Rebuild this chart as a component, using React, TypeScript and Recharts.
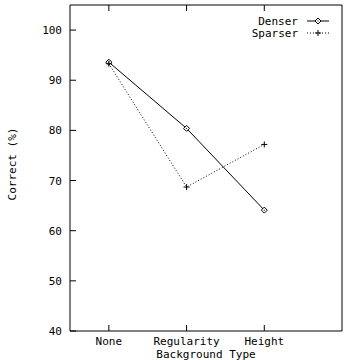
import React from 'react';
import { LineChart, Line, XAxis, YAxis, Legend } from 'recharts';

const categories = ['None', 'Regularity', 'Height'];
const xPositions = [1, 2, 3];
const denser = [93.6, 80.4, 64.1];
const sparser = [93.3, 68.7, 77.2];
const yTicks = [40, 50, 60, 70, 80, 90, 100];

const data = categories.map((c, i) => ({ name: c, x: xPositions[i], denser: denser[i], sparser: sparser[i] }));

const FONT = '"DejaVu Sans Mono", "Liberation Mono", monospace';
const FS = 11;

const XTickBottom = (props: any) => {
  const { x, y, payload } = props;
  const idx = xPositions.indexOf(payload.value);
  return (
    <g>
      <line x1={x} y1={y} x2={x} y2={y - 6} stroke="#000" />
      <text x={x} y={y + 14} textAnchor="middle" fontFamily={FONT} fontSize={FS} fill="#000">
        {idx >= 0 ? categories[idx] : ''}
      </text>
    </g>
  );
};

const XTickTop = (props: any) => {
  const { x, y } = props;
  return <line x1={x} y1={y} x2={x} y2={y + 6} stroke="#000" />;
};

const YTickLeft = (props: any) => {
  const { x, y, payload } = props;
  return (
    <g>
      <line x1={x} y1={y} x2={x + 6} y2={y} stroke="#000" />
      <text x={x - 8} y={y + 4} textAnchor="end" fontFamily={FONT} fontSize={FS} fill="#000">
        {payload.value}
      </text>
    </g>
  );
};

const YTickRight = (props: any) => {
  const { x, y } = props;
  return <line x1={x} y1={y} x2={x - 6} y2={y} stroke="#000" />;
};

const Diamond = ({ cx, cy }: { cx: number; cy: number }) => (
  <g>
    <polygon
      points={`${cx},${cy - 3} ${cx + 3},${cy} ${cx},${cy + 3} ${cx - 3},${cy}`}
      fill="#fff"
      stroke="#000"
      strokeWidth={1}
    />
    <rect x={cx - 0.5} y={cy - 0.5} width={1} height={1} fill="#000" />
  </g>
);

const Plus = ({ cx, cy }: { cx: number; cy: number }) => (
  <g stroke="#000" strokeWidth={1}>
    <line x1={cx - 3} y1={cy} x2={cx + 3} y2={cy} />
    <line x1={cx} y1={cy - 3} x2={cx} y2={cy + 3} />
  </g>
);

const denserDot = (p: any) => <Diamond key={`d${p.index}`} cx={p.cx} cy={p.cy} />;
const sparserDot = (p: any) => <Plus key={`s${p.index}`} cx={p.cx} cy={p.cy} />;

const YLabel = (props: any) => {
  const vb = props.viewBox || { x: 0, y: 0, width: 0, height: 0 };
  const cx = vb.x + 12;
  const cy = vb.y + vb.height / 2 - 4;
  return (
    <text
      x={cx}
      y={cy}
      transform={`rotate(-90, ${cx}, ${cy})`}
      textAnchor="middle"
      dominantBaseline="central"
      fontFamily={FONT}
      fontSize={FS}
      fill="#000"
    >
      Correct (%)
    </text>
  );
};

const legendItems = [
  { label: 'Denser', dash: undefined as string | undefined, marker: 'diamond' },
  { label: 'Sparser', dash: '1 2', marker: 'plus' },
];

const LegendContent = () => (
  <svg width={110} height={32} style={{ display: 'block' }}>
    {legendItems.map((it, i) => {
      const yy = 7 + i * 12;
      return (
        <g key={it.label}>
          <text x={68} y={yy + 4} textAnchor="end" fontFamily={FONT} fontSize={FS} fill="#000">
            {it.label}
          </text>
          <line x1={77} y1={yy} x2={99} y2={yy} stroke="#000" strokeDasharray={it.dash} />
          {it.marker === 'diamond' ? <Diamond cx={88} cy={yy} /> : <Plus cx={88} cy={yy} />}
        </g>
      );
    })}
  </svg>
);

export default function App() {
  return (
    <div style={{ position: 'absolute', left: 0, top: 0, width: 360, height: 360, background: '#fff' }}>
      <LineChart width={360} height={360} data={data} margin={{ top: 0, right: 0, bottom: 0, left: 0 }}>
        <XAxis
          xAxisId="bottom"
          dataKey="x"
          type="number"
          domain={[0.5, 4]}
          ticks={xPositions}
          orientation="bottom"
          height={29}
          tickSize={0}
          tickMargin={0}
          tickLine={false}
          axisLine={{ stroke: '#000' }}
          tick={<XTickBottom />}
          interval={0}
          label={{
            value: 'Background Type',
            position: 'insideBottom',
            offset: 2,
            style: { fontFamily: FONT, fontSize: FS, fill: '#000' },
          }}
        />
        <XAxis
          xAxisId="top"
          dataKey="x"
          type="number"
          domain={[0.5, 4]}
          ticks={xPositions}
          orientation="top"
          height={5}
          tickSize={0}
          tickMargin={0}
          tickLine={false}
          axisLine={{ stroke: '#000' }}
          tick={<XTickTop />}
          interval={0}
        />
        <YAxis
          yAxisId="left"
          type="number"
          domain={[40, 105]}
          ticks={yTicks}
          orientation="left"
          width={70}
          tickSize={0}
          tickMargin={0}
          tickLine={false}
          axisLine={{ stroke: '#000' }}
          tick={<YTickLeft />}
          interval={0}
          label={<YLabel />}
        />
        <YAxis
          yAxisId="right"
          type="number"
          domain={[40, 105]}
          ticks={yTicks}
          orientation="right"
          width={18}
          tickSize={0}
          tickMargin={0}
          tickLine={false}
          axisLine={{ stroke: '#000' }}
          tick={<YTickRight />}
          interval={0}
        />
        <Legend
          layout="horizontal"
          align="center"
          verticalAlign="middle"
          wrapperStyle={{ left: 230, top: 14, width: 110, height: 32 }}
          content={<LegendContent />}
        />
        <Line
          xAxisId="bottom"
          yAxisId="left"
          type="linear"
          dataKey="denser"
          stroke="#000"
          strokeWidth={1}
          dot={denserDot}
          activeDot={false}
          isAnimationActive={false}
        />
        <Line
          xAxisId="bottom"
          yAxisId="left"
          type="linear"
          dataKey="sparser"
          stroke="#000"
          strokeWidth={1}
          strokeDasharray="1 2"
          dot={sparserDot}
          activeDot={false}
          isAnimationActive={false}
        />
      </LineChart>
    </div>
  );
}
